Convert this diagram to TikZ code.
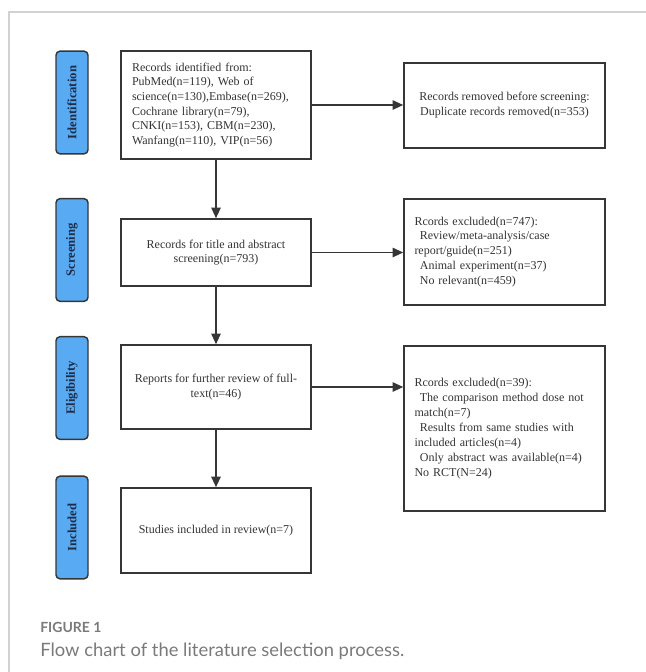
\documentclass[tikz,border=0pt]{standalone}
\usepackage{fontspec}
\setmainfont{Liberation Serif}
\newfontfamily\capfont{Lato}
\usepackage{xcolor}
\usepackage{tikz}
\usetikzlibrary{arrows.meta}
\definecolor{cLane}{HTML}{58ABF3}
\definecolor{cLaneInk}{HTML}{1E2C48}
\definecolor{cEdge}{HTML}{363636}
\definecolor{cInk}{HTML}{333333}
\definecolor{cFrame}{HTML}{D2D2D2}
\definecolor{cCap}{HTML}{7A7A7A}
\tikzset{
  lane/.style={draw=cEdge,fill=cLane,rounded corners=3pt,line width=1.1pt,rotate=90,minimum width=77pt,minimum height=24pt,inner sep=0pt,text=cLaneInk,font=\fontsize{9.5}{11}\selectfont\bfseries},
  stagebox/.style={draw=cEdge,line width=1.1pt,minimum width=142.5pt,inner sep=0pt,text=cInk,font=\fontsize{9}{11}\selectfont,align=center},
  sidebox/.style={draw=cEdge,line width=1.1pt,minimum width=150.75pt,inner sep=0pt,text=cInk,font=\fontsize{9}{11.2}\selectfont,align=center},
  arr/.style={-{Triangle[length=8pt,width=7pt]},line width=1.3pt,color=cEdge},
}

\begin{document}
\begin{tikzpicture}[x=0.75pt,y=-0.75pt,
          capnode/.style={anchor=west,inner sep=0pt,text=cCap}]
  \useasboundingbox (0,0) rectangle (646,672);
  \draw[cFrame,line width=0.8pt] (9,672) -- (9,12) -- (646,12);
  \node[lane] (lid) at (72,102.5) {Identification};
  \node[lane] (lsc) at (72,250) {Screening};
  \node[lane] (lel) at (72,388) {Eligibility};
  \node[lane] (lin) at (72,527.5) {Included};
  \node[stagebox,minimum height=81pt,text width=126pt,align=left] (b1) at (216,105) {Records identified from:\\PubMed(n=119), Web of\\science(n=130),Embase(n=269),\\Cochrane library(n=79),\\CNKI(n=153), CBM(n=230),\\Wanfang(n=110), VIP(n=56)};
  \node[stagebox,minimum height=50.25pt] (b2) at (216,252.5) {Records for title and abstract\\screening(n=793)};
  \node[stagebox,minimum height=63pt] (b3) at (216,387) {Reports for further review of full-\\text(n=46)};
  \node[stagebox,minimum height=63.75pt] (b4) at (216,530.5) {Studies included in review(n=7)};
  \node[sidebox,minimum height=63.75pt] (r1) at (504.5,105.5) {Records removed before screening:\\Duplicate records removed(n=353)};
  \node[sidebox,minimum height=79.5pt,text width=135pt,align=left] (r2) at (504.5,252) {Rcords excluded(n=747):\\\hspace*{4pt}Review/meta-analysis/case\\report/guide(n=251)\\\hspace*{4pt}Animal experiment(n=37)\\\hspace*{4pt}No relevant(n=459)};
  \node[sidebox,minimum height=123.75pt,text width=135pt,align=left] (r3) at (504.5,428.5) {Rcords excluded(n=39):\\\hspace*{4pt}The comparison method dose not\\match(n=7)\\\hspace*{4pt}Results from same studies with\\included articles(n=4)\\\hspace*{4pt}Only abstract was available(n=4)\\No RCT(N=24)\\[9pt]};
  \draw[arr] (b1.south) -- (b2.north);
  \draw[arr] (b2.south) -- (b3.north);
  \draw[arr] (b3.south) -- (b4.north);
  \draw[arr] (b1.east) -- (b1.east -| r1.west);
  \draw[arr] (b2.east) -- (b2.east -| r2.west);
  \draw[arr] (b3.east) -- (b3.east -| r3.west);
  \node[capnode,font=\capfont\fontsize{10.5}{12}\selectfont\bfseries] (figno) at (40,627) {FIGURE 1};
  \node[capnode,font=\capfont\fontsize{13.8}{16}\selectfont] (figcap) at (40,651) {Flow chart of the literature selection process.};
\end{tikzpicture}
\end{document}
